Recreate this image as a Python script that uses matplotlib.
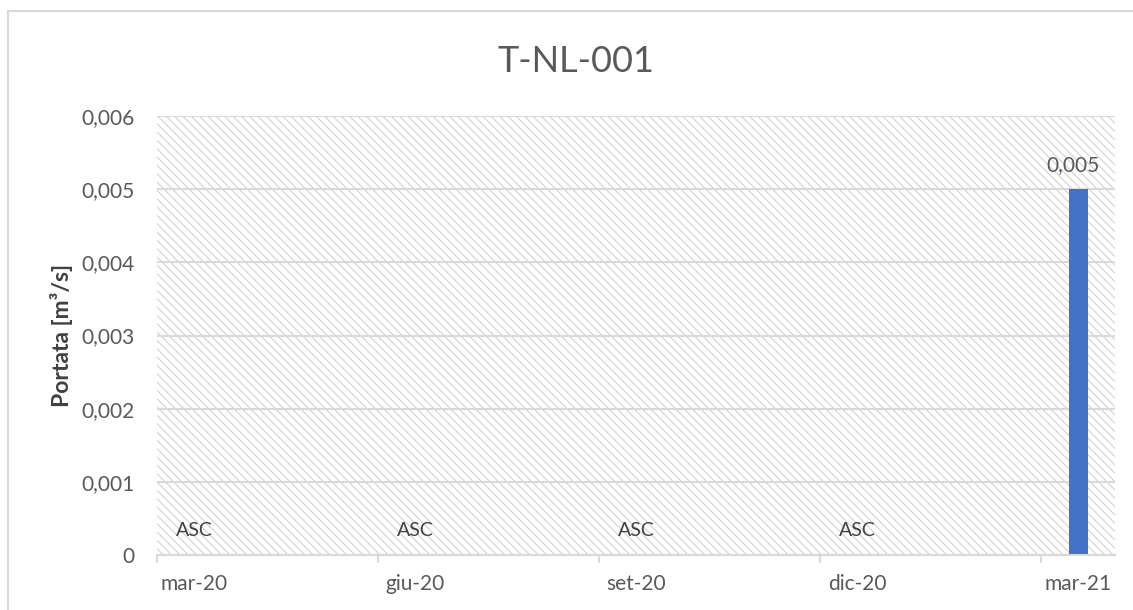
import numpy as np
import pandas as pd
import matplotlib
matplotlib.use("Agg")
import matplotlib.pyplot as plt
from matplotlib.patches import Rectangle
from matplotlib.ticker import FuncFormatter, FixedLocator


# Quarterly flow readings; None = dry ("ASC")
dates = pd.to_datetime(["2020-03-01", "2020-06-01", "2020-09-01", "2020-12-01", "2021-03-01"])
portata = [None, None, None, None, 0.005]
tick_labels = ["mar-20", "giu-20", "set-20", "dic-20", "mar-21"]
dry_label = "ASC"

plt.rcParams['font.family'] = ['Lato', 'DejaVu Sans']
plt.rcParams['hatch.linewidth'] = 0.7

GRID = '#d9d9d9'
TXT = '#595959'


def month_index(d, start):
    # months elapsed since the first reading
    return (d.year - start.year) * 12 + (d.month - start.month)


start = dates[0]
x = np.array([month_index(d, start) for d in dates])
n_months = x.max() + 1

fig = plt.figure(figsize=(11.33, 6.10), dpi=100)

# chart frame
fig.patches.append(Rectangle((8 / 1133, -0.1), 1.2, (599 + 61) / 610, transform=fig.transFigure,
                             facecolor='none', edgecolor=GRID, linewidth=1.5))

ax = fig.add_axes([157 / 1133, 55 / 610, (1115 - 157) / 1133, (555 - 116) / 610])

# hatched plot area
ax.add_patch(Rectangle((0, 0), 1, 1, transform=ax.transAxes, facecolor='white',
                       edgecolor='#cccccc', linewidth=0, hatch='\\\\\\\\', zorder=0))

for xi, v in zip(x, portata):
    if v is None:
        ax.text(xi, 0.00034, dry_label, ha='center', va='center', fontsize=14,
                color='#404040', zorder=4)
    else:
        ax.bar(xi, v, width=0.26, color='#4472c4', zorder=3)
        ax.annotate(f"{v:.3f}".replace('.', ','), (xi, v), xytext=(-4, 10),
                    textcoords='offset points', ha='center', va='bottom',
                    fontsize=15, color=TXT, zorder=4)

ax.set_xlim(-0.5, n_months - 0.5)
ax.set_ylim(0, 0.006)
ax.set_yticks(np.arange(0, 0.0061, 0.001))
ax.yaxis.set_major_formatter(FuncFormatter(
    lambda v, p: "0" if abs(v) < 1e-12 else f"{v:.3f}".replace('.', ',')))

ax.set_xticks(x)
ax.set_xticklabels(tick_labels)
ax.xaxis.set_minor_locator(FixedLocator(x - 0.5))
ax.tick_params(axis='x', which='major', length=0, pad=14, labelsize=15, labelcolor=TXT)
ax.tick_params(axis='x', which='minor', length=6, width=1.5, color=GRID)
ax.tick_params(axis='y', length=0, pad=16, labelsize=15, labelcolor=TXT)

ax.grid(axis='y', color=GRID, linewidth=1.5, zorder=1)
ax.set_axisbelow(True)
for s in ['left', 'right', 'top']:
    ax.spines[s].set_visible(False)
ax.spines['bottom'].set_color(GRID)
ax.spines['bottom'].set_linewidth(1.5)
ax.spines['bottom'].set_zorder(5)

ax.set_ylabel("Portata [m³/s]", fontsize=16.5, fontweight='bold', color='#404040', labelpad=6)

fig.text(576 / 1133, 1 - 61 / 610, "T-NL-001", ha='center', va='center', fontsize=26, color=TXT)

fig.savefig("out.png", dpi=100)
